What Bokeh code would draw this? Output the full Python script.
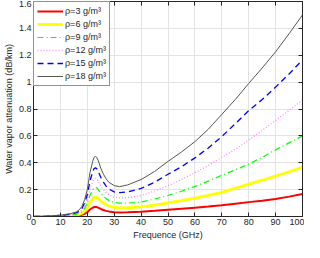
from bokeh.plotting import figure
from bokeh.models import (FixedTicker, NumeralTickFormatter, Legend, LegendItem,
                          LinearAxis, Range1d)
from bokeh.embed import file_html
from bokeh.resources import INLINE

# Frequencies (GHz)
freq = [0, 5, 10, 14, 16, 17, 18, 19, 20, 21, 22, 22.5, 23, 23.5, 24, 25, 26, 27, 28, 30,
        32, 35, 40, 45, 50, 55, 60, 65, 70, 75, 80, 85, 90, 95, 100]

# Attenuation (dB/km) for each water-vapour density
rho3 = [0, 0.0005, 0.0015, 0.0035, 0.0055, 0.008, 0.012, 0.020, 0.032, 0.052, 0.065, 0.070,
        0.071, 0.070, 0.066, 0.056, 0.048, 0.042, 0.038, 0.032, 0.030, 0.031, 0.035, 0.042,
        0.050, 0.058, 0.066, 0.074, 0.083, 0.095, 0.107, 0.118, 0.131, 0.148, 0.168]
rho6 = [0, 0.001, 0.003, 0.007, 0.011, 0.016, 0.024, 0.040, 0.064, 0.105, 0.132, 0.142,
        0.144, 0.141, 0.134, 0.114, 0.099, 0.087, 0.078, 0.067, 0.064, 0.065, 0.071, 0.085,
        0.102, 0.118, 0.136, 0.157, 0.180, 0.210, 0.241, 0.270, 0.300, 0.333, 0.367]
rho9 = [0, 0.001, 0.004, 0.011, 0.017, 0.024, 0.036, 0.061, 0.097, 0.158, 0.199, 0.213,
        0.217, 0.213, 0.203, 0.173, 0.150, 0.133, 0.120, 0.104, 0.100, 0.100, 0.107, 0.130,
        0.156, 0.188, 0.224, 0.263, 0.307, 0.347, 0.390, 0.440, 0.496, 0.548, 0.600]
rho12 = [0, 0.002, 0.006, 0.014, 0.022, 0.032, 0.047, 0.079, 0.127, 0.206, 0.260, 0.279,
         0.283, 0.279, 0.266, 0.228, 0.200, 0.177, 0.161, 0.143, 0.138, 0.140, 0.156, 0.190,
         0.229, 0.275, 0.326, 0.380, 0.440, 0.500, 0.569, 0.640, 0.715, 0.790, 0.866]
rho15 = [0, 0.002, 0.008, 0.018, 0.028, 0.040, 0.060, 0.100, 0.162, 0.264, 0.332, 0.356,
         0.362, 0.356, 0.340, 0.292, 0.255, 0.226, 0.205, 0.183, 0.177, 0.183, 0.209, 0.255,
         0.314, 0.370, 0.436, 0.510, 0.595, 0.690, 0.788, 0.870, 0.963, 1.060, 1.166]
rho18 = [0, 0.003, 0.010, 0.022, 0.035, 0.050, 0.075, 0.125, 0.200, 0.326, 0.410, 0.440,
         0.447, 0.440, 0.420, 0.360, 0.315, 0.280, 0.255, 0.230, 0.222, 0.235, 0.275, 0.335,
         0.410, 0.480, 0.557, 0.650, 0.760, 0.870, 0.990, 1.105, 1.226, 1.360, 1.500]

labels = ["\u03c1=3 g/m\u00b3", "\u03c1=6 g/m\u00b3", "\u03c1=9 g/m\u00b3",
          "\u03c1=12 g/m\u00b3", "\u03c1=15 g/m\u00b3", "\u03c1=18 g/m\u00b3"]
x_ticks = [0, 10, 20, 30, 40, 50, 60, 70, 80, 90, 100]
y_ticks = [0, 0.2, 0.4, 0.6, 0.8, 1.0, 1.2, 1.4, 1.6]

FONT = "Liberation Sans"
TXT = "#262626"

p = figure(width=304, height=242, output_backend="svg", toolbar_location=None,
           x_range=Range1d(0, 100), y_range=Range1d(0, 1.6),
           min_border_left=4, min_border_right=2, min_border_top=1, min_border_bottom=2)
p.background_fill_color = "white"
p.border_fill_color = "white"
p.outline_line_color = TXT
p.outline_line_width = 1

for ax in (p.xaxis[0], p.yaxis[0]):
    ax.major_tick_in = 4
    ax.major_tick_out = 0
    ax.minor_tick_in = 0
    ax.minor_tick_out = 0
    ax.axis_line_color = TXT
    ax.major_tick_line_color = TXT
    ax.major_label_text_font = FONT
    ax.major_label_text_font_size = "9px"
    ax.major_label_text_color = TXT
    ax.axis_label_text_font = FONT
    ax.axis_label_text_font_size = "9px"
    ax.axis_label_text_font_style = "normal"
    ax.axis_label_text_color = TXT
    ax.major_label_standoff = 2
    ax.axis_label_standoff = 2

p.xaxis.ticker = FixedTicker(ticks=x_ticks)
p.yaxis.ticker = FixedTicker(ticks=y_ticks)
p.yaxis.formatter = NumeralTickFormatter(format="0.[0]")
p.xaxis.axis_label = "Frequence (GHz)"
p.yaxis.axis_label = "Water vapor attenuation (dB/km)"

# ticks on top and right (box)
top = LinearAxis(ticker=FixedTicker(ticks=x_ticks), major_label_text_font_size="0px",
                 major_tick_in=4, major_tick_out=0, minor_tick_in=0, minor_tick_out=0,
                 major_label_standoff=0, axis_line_color=TXT, major_tick_line_color=TXT)
right = LinearAxis(ticker=FixedTicker(ticks=y_ticks), major_label_text_font_size="0px",
                   major_tick_in=4, major_tick_out=0, minor_tick_in=0, minor_tick_out=0,
                   major_label_standoff=0, axis_line_color=TXT, major_tick_line_color=TXT)
p.add_layout(top, "above")
p.add_layout(right, "right")

p.xgrid.grid_line_color = "#e3e3e3"
p.ygrid.grid_line_color = "#e3e3e3"
p.xgrid.ticker = FixedTicker(ticks=x_ticks)
p.ygrid.ticker = FixedTicker(ticks=y_ticks)

series = [rho3, rho6, rho9, rho12, rho15, rho18]
styles = [
    dict(line_color="#ff0000", line_width=2.0, line_dash="solid"),
    dict(line_color="#ffff00", line_width=2.8, line_dash="solid"),
    dict(line_color="#00ff00", line_width=1.2, line_dash="6 3 1 3"),
    dict(line_color="#ff88ff", line_width=1.3, line_dash="1 2"),
    dict(line_color="#0000ff", line_width=1.3, line_dash="6 4"),
    dict(line_color="#555555", line_width=1.0, line_dash="solid"),
]
items = []
for ys, st, lab in zip(series, styles, labels):
    r = p.line(freq, ys, **st)
    items.append(LegendItem(label=lab, renderers=[r]))

legend = Legend(items=items, location="top_left")
legend.label_text_font = FONT
legend.label_text_font_size = "9px"
legend.label_text_color = TXT
legend.glyph_width = 26
legend.glyph_height = 12
legend.label_height = 12
legend.label_standoff = 2
legend.spacing = 1
legend.padding = 3
legend.margin = 0
legend.border_line_color = TXT
legend.border_line_width = 1
legend.background_fill_color = "white"
legend.background_fill_alpha = 1
p.add_layout(legend)

open("out.html", "w").write(file_html(p, INLINE))
